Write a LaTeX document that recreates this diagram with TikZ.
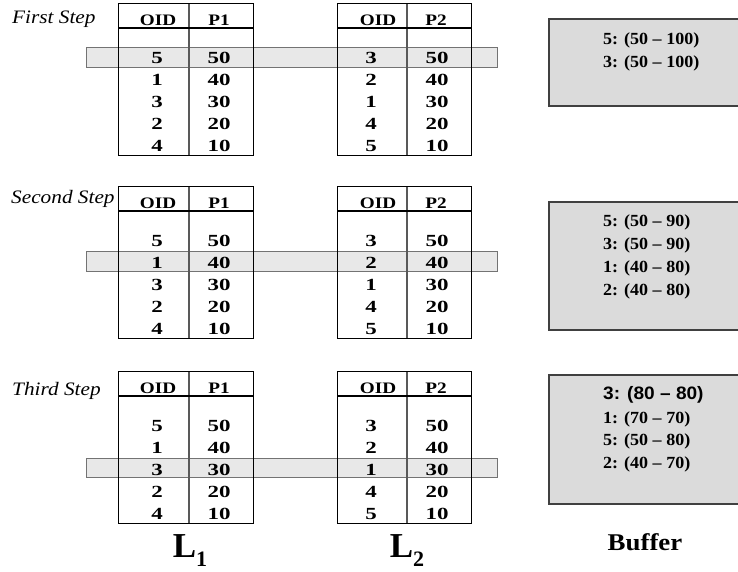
\documentclass[tikz,border=0pt]{standalone}
\usepackage{fontspec}
\setmainfont{Liberation Serif}
\newfontfamily\hdrfont[FakeStretch=1.2]{Liberation Serif}
\newfontfamily\numfont[FakeStretch=1.35]{Liberation Serif}
\newfontfamily\buffont[FakeStretch=1.06,Ligatures=TeX]{Liberation Serif}
\newfontfamily\bufsans[FakeStretch=1.06,Ligatures=TeX]{Liberation Sans}
\newfontfamily\stepfont[FakeStretch=1.12]{Liberation Serif}
\newfontfamily\lblfont[FakeStretch=1.12]{Liberation Serif}
\tikzset{
  hdr/.style={font=\hdrfont\bfseries\fontsize{16}{16}\selectfont, inner sep=0pt},
  num/.style={font=\numfont\bfseries\fontsize{17}{17}\selectfont, inner sep=0pt},
  bufline/.style={font=\buffont\bfseries\fontsize{17}{17}\selectfont, inner sep=0pt, anchor=west},
  bufsansline/.style={font=\bufsans\bfseries\fontsize{18}{18}\selectfont, inner sep=0pt, anchor=west},
  steplbl/.style={font=\stepfont\itshape\fontsize{19}{19}\selectfont, inner sep=0pt, anchor=base west},
  biglbl/.style={font=\bfseries\fontsize{35}{35}\selectfont, inner sep=0pt, anchor=base},
  buflbl/.style={font=\lblfont\bfseries\fontsize{24}{24}\selectfont, inner sep=0pt, anchor=base},
  band/.style={draw=black!55, fill=black!9, line width=0.8pt},
  tblframe/.style={draw=black, line width=0.9pt},
  tbldiv/.style={draw=black!65, line width=1.2pt},
  tblhead/.style={draw=black, line width=2pt},
  bufbox/.style={draw=black!75, fill=black!14, line width=1.2pt},
}
\begin{document}
\begin{tikzpicture}[x=1pt, y=-1pt]
\clip (0,0) rectangle (738,571);
\fill[white] (0,0) rectangle (738,571);
% highlight bands
\draw[band] (86,47) rectangle (497,67);
\draw[band] (86,251) rectangle (497,271);
\draw[band] (86,458) rectangle (497,477);
% tables
\foreach \T [count=\s] in {3,186,371} {
  % L1
  \draw[tbldiv] (189,\T) -- (189,\T+152);
  \draw[tblframe] (118,\T) rectangle (253,\T+152);
  \draw[tblhead] (118,\T+25) -- (253,\T+25);
  \node[hdr] (oidA\s) at (158,\T+17) {OID};
  \node[hdr] (pA\s) at (219,\T+17) {P1};
  % L2
  \draw[tbldiv] (407,\T) -- (407,\T+152);
  \draw[tblframe] (337,\T) rectangle (471,\T+152);
  \draw[tblhead] (337,\T+25) -- (471,\T+25);
  \node[hdr] (oidB\s) at (378,\T+17) {OID};
  \node[hdr] (pB\s) at (436,\T+17) {P2};
  \foreach \a/\b/\v [count=\k] in {5/3/50, 1/2/40, 3/1/30, 2/4/20, 4/5/10} {
    \node[num] (a\s-\k) at (157,\T+55+22*\k-22) {\a};
    \node[num] (av\s-\k) at (219,\T+55+22*\k-22) {\v};
    \node[num] (b\s-\k) at (371,\T+55+22*\k-22) {\b};
    \node[num] (bv\s-\k) at (437,\T+55+22*\k-22) {\v};
  }
}
% step labels
\node[steplbl] (step1) at (12,23) {First Step};
\node[steplbl] (step2) at (11,203) {Second Step};
\node[steplbl] (step3) at (12,395) {Third Step};
% buffers
\draw[bufbox] (549,19) rectangle (750,106);
\node[bufline] (buf1a) at (603,40) {5: (50 \textendash{} 100)};
\node[bufline] (buf1b) at (603,63) {3: (50 \textendash{} 100)};
\draw[bufbox] (549,202) rectangle (750,330);
\node[bufline] (buf2a) at (603,222) {5: (50 \textendash{} 90)};
\node[bufline] (buf2b) at (603,245) {3: (50 \textendash{} 90)};
\node[bufline] (buf2c) at (603,268) {1: (40 \textendash{} 80)};
\node[bufline] (buf2d) at (603,291) {2: (40 \textendash{} 80)};
\draw[bufbox] (549,375) rectangle (750,504);
\node[bufsansline] (buf3a) at (603,395) {3: (80 \textendash{} 80)};
\node[bufline] (buf3b) at (603,419) {1: (70 \textendash{} 70)};
\node[bufline] (buf3c) at (603,441) {5: (50 \textendash{} 80)};
\node[bufline] (buf3d) at (603,464) {2: (40 \textendash{} 70)};
% bottom labels
\node[biglbl] (L1) at (190,557) {L\raisebox{-0.28em}{\fontsize{22}{22}\selectfont 1}};
\node[biglbl] (L2) at (407,557) {L\raisebox{-0.28em}{\fontsize{22}{22}\selectfont 2}};
\node[buflbl] (buflabel) at (645,550) {Buffer};
\end{tikzpicture}
\end{document}
